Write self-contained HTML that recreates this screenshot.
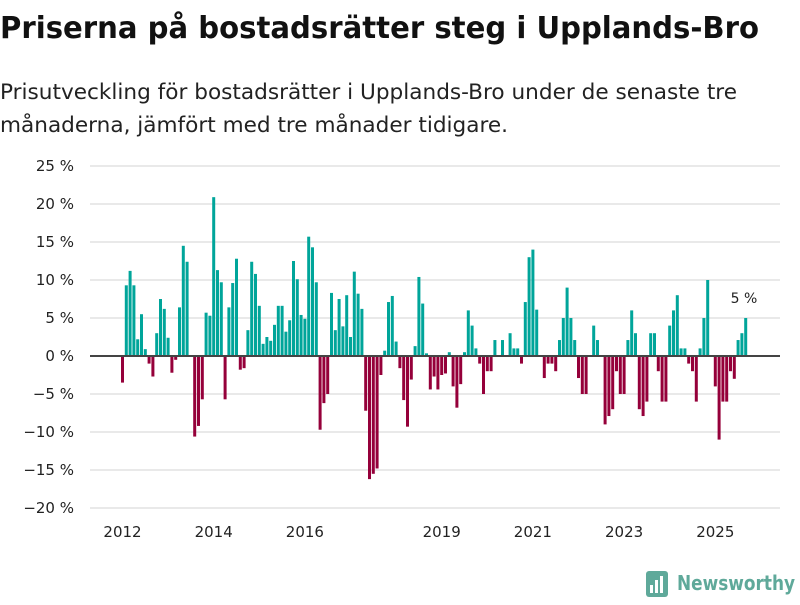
<!DOCTYPE html>
<html><head><meta charset="utf-8">
<style>
body{margin:0;background:#fff;width:800px;height:600px;overflow:hidden;font-family:"Liberation Sans",sans-serif;}
svg text{font-family:"DejaVu Sans","Liberation Sans",sans-serif;}
</style></head>
<body>
<svg id="chart" width="800" height="600" xmlns="http://www.w3.org/2000/svg">
<text x="0" y="38" font-size="30" font-weight="bold" fill="#111" textLength="759" lengthAdjust="spacingAndGlyphs">Priserna på bostadsrätter steg i Upplands-Bro</text>
<text x="0" y="99" font-size="21" fill="#222" textLength="737" lengthAdjust="spacingAndGlyphs">Prisutveckling för bostadsrätter i Upplands-Bro under de senaste tre</text>
<text x="0" y="132" font-size="21" fill="#222" textLength="508" lengthAdjust="spacingAndGlyphs">månaderna, jämfört med tre månader tidigare.</text>
<g id="grid"></g>
<g id="bars"></g>
<g id="xaxis"></g>
<text x="744" y="303" font-size="14" fill="#222" text-anchor="middle">5 %</text>
<g>
<rect x="646" y="571" width="22" height="26" rx="3" fill="#5fa99a"/>
<rect x="650" y="585" width="3" height="8" fill="#fff"/><rect x="655" y="580" width="3" height="13" fill="#fff"/><rect x="660" y="576" width="3" height="17" fill="#fff"/>
<text x="677" y="590" font-size="20" font-weight="bold" fill="#5fa99a" textLength="118" lengthAdjust="spacingAndGlyphs">Newsworthy</text>
</g>
</svg>
<script>
const yTicks=[25,20,15,10,5,0,-5,-10,-15,-20];
const yearTicks=[2012,2014,2016,2019,2021,2023,2025];
const startYear=2012;
const values=[
-3.5,9.3,11.2,9.3,2.2,5.5,0.9,-1.0,-2.7,3.0,7.5,6.2,
2.4,-2.2,-0.5,6.4,14.5,12.4,0,-10.6,-9.2,-5.7,5.7,5.3,
20.9,11.3,9.7,-5.7,6.4,9.6,12.8,-1.8,-1.6,3.4,12.4,10.8,
6.6,1.6,2.5,2.0,4.1,6.6,6.6,3.2,4.7,12.5,10.1,5.4,
4.9,15.7,14.3,9.7,-9.7,-6.2,-5.0,8.3,3.4,7.5,3.9,8.0,
2.5,11.1,8.2,6.2,-7.2,-16.2,-15.5,-14.8,-2.5,0.7,7.1,7.9,
1.9,-1.6,-5.8,-9.3,-3.1,1.3,10.4,6.9,0.35,-4.4,-2.7,-4.4,
-2.5,-2.3,0.5,-4.0,-6.8,-3.7,0.5,6.0,4.0,1.0,-1.0,-5.0,
-2.0,-2.0,2.1,0,2.1,0,3.0,1.0,1.0,-1.0,7.1,13.0,
14.0,6.1,0,-2.9,-1.0,-1.0,-2.0,2.1,5.0,9.0,5.0,2.1,
-2.9,-5.0,-5.0,0,4.0,2.1,0,-9.0,-7.9,-7.0,-2.0,-5.0,
-5.0,2.1,6.0,3.0,-7.0,-7.9,-6.0,3.0,3.0,-2.0,-6.0,-6.0,
4.0,6.0,8.0,1.0,1.0,-1.0,-2.0,-6.0,1.0,5.0,10.0,0,
-4.0,-11.0,-6.0,-6.0,-2.0,-3.0,2.1,3.0,5.0
];
const NS="http://www.w3.org/2000/svg";
const yS=v=>356-v*7.6;
const xS=i=>121+i*3.8;
const grid=document.getElementById('grid');
yTicks.forEach(t=>{
  if(t!==0){
    const l=document.createElementNS(NS,'line');
    
    
    l.setAttribute('x1',90);l.setAttribute('x2',780);
    l.setAttribute('y1',yS(t));l.setAttribute('y2',yS(t));
    l.setAttribute('stroke','#e2e2e2');l.setAttribute('stroke-width',1.5);
    grid.appendChild(l);
  }
  const tx=document.createElementNS(NS,'text');
  
  
  tx.setAttribute('x',74);tx.setAttribute('y',yS(t)+5);
  tx.setAttribute('text-anchor','end');tx.setAttribute('font-size','15');tx.setAttribute('fill','#222');
  tx.textContent=(t<0?'−'+(-t):t)+' %';
  grid.appendChild(tx);
});
const bars=document.getElementById('bars');
values.forEach((v,i)=>{
  const r=document.createElementNS(NS,'rect');
  
  
  r.setAttribute('x',xS(i));r.setAttribute('width',3);
  r.setAttribute('y',Math.min(yS(v),yS(0)));r.setAttribute('height',Math.abs(yS(v)-yS(0)));
  r.setAttribute('fill',v>=0?'#00a59a':'#95003a');
  bars.appendChild(r);
});
const zl=document.createElementNS(NS,'line');


zl.setAttribute('x1',90);zl.setAttribute('x2',780);zl.setAttribute('y1',yS(0));zl.setAttribute('y2',yS(0));
zl.setAttribute('stroke','#444');zl.setAttribute('stroke-width',2);
bars.appendChild(zl);
const xa=document.getElementById('xaxis');
yearTicks.forEach(y=>{
  const cx=xS((y-startYear)*12)+1.5;
  const tx=document.createElementNS(NS,'text');
  
  
  tx.setAttribute('x',cx);tx.setAttribute('y',537);tx.setAttribute('text-anchor','middle');
  tx.setAttribute('font-size','15');tx.setAttribute('fill','#222');
  tx.textContent=y;
  xa.appendChild(tx);
});
</script>
</body></html>
